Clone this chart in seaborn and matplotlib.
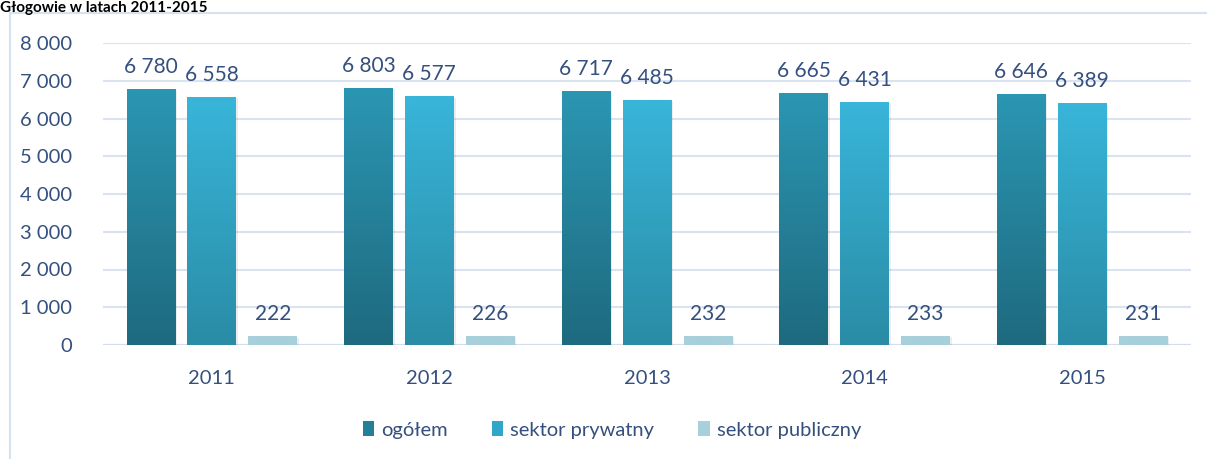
import numpy as np
import pandas as pd
import matplotlib
matplotlib.use("Agg")
import matplotlib.pyplot as plt
import seaborn as sns
from matplotlib.colors import LinearSegmentedColormap
from matplotlib.patches import Rectangle

years = ["2011", "2012", "2013", "2014", "2015"]
series_names = ["ogółem", "sektor prywatny", "sektor publiczny"]
ogolem = [6780, 6803, 6717, 6665, 6646]
prywatny = [6558, 6577, 6485, 6431, 6389]
publiczny = [222, 226, 232, 233, 231]
y_ticks = [0, 1000, 2000, 3000, 4000, 5000, 6000, 7000, 8000]
title_text = "Głogowie w latach 2011-2015"

df = pd.DataFrame({
    "rok": years * 3,
    "seria": [series_names[0]] * 5 + [series_names[1]] * 5 + [series_names[2]] * 5,
    "wartosc": ogolem + prywatny + publiczny,
})

grad = {
    series_names[0]: ("#1e6a7f", "#2b96b2"),
    series_names[1]: ("#2a8ca6", "#38b5d9"),
    series_names[2]: ("#a8cfdc", "#a8cfdc"),
}
mid = {series_names[0]: "#247f98", series_names[1]: "#32a6c8", series_names[2]: "#a8cfdc"}
text_col = "#34507e"

sns.set_theme(style="white")
plt.rcParams["font.family"] = ["Lato", "DejaVu Sans"]

fig = plt.figure(figsize=(12.07, 4.59), dpi=100)
W, H = 1207, 459
ax = fig.add_axes([103 / W, 1 - 345 / H, (1191 - 103) / W, (345 - 43) / H])

sns.barplot(data=df, x="rok", y="wartosc", hue="seria", hue_order=series_names,
            palette=mid, width=0.84, gap=0.2, ax=ax, legend=False, zorder=3)

ax.set_ylim(0, 8000)
ax.set_xlim(-0.5, 4.5)

# gradients + shadows
for cont, name in zip(ax.containers, series_names):
    cmap = LinearSegmentedColormap.from_list(name, list(grad[name]))
    for p in cont.patches:
        x, w, h = p.get_x(), p.get_width(), p.get_height()
        p.set_facecolor("none")
        p.set_edgecolor("none")
        ax.imshow(np.linspace(0, 1, 100).reshape(-1, 1), extent=[x, x + w, 0, h],
                  origin="lower", aspect="auto", cmap=cmap, zorder=3)
        ax.add_patch(Rectangle((x + 0.008, 0), w, h - 25, facecolor="#000000",
                               alpha=0.07, edgecolor="none", zorder=2.5))
    labels = [f"{int(v):,}".replace(",", " ") for v in cont.datavalues]
    ax.bar_label(cont, labels=labels, padding=9, fontsize=15, color=text_col, zorder=5)

ax.set_xlim(-0.5, 4.5)
ax.set_ylim(0, 8000)
ax.set_yticks(y_ticks)
ax.set_yticklabels([f"{t:,}".replace(",", " ") for t in y_ticks])
ax.grid(axis="y", color="#dae4f1", linewidth=1.5, zorder=0)
ax.set_axisbelow(True)
for s in ["top", "right", "left", "bottom"]:
    ax.spines[s].set_visible(False)
ax.axhline(0, color="#d3deec", linewidth=1.5, zorder=1)
ax.tick_params(axis="y", length=0, pad=22, labelsize=14.5, labelcolor=text_col)
ax.tick_params(axis="x", length=0, pad=18, labelsize=14.5, labelcolor=text_col)
ax.set_xlabel("")
ax.set_ylabel("")

handles = [Rectangle((0, 0), 1, 1, facecolor=mid[n], edgecolor="none") for n in series_names]
fig.legend(handles, series_names, loc="center", bbox_to_anchor=(612 / W, 1 - 430 / H),
           ncol=3, frameon=False, handlelength=0.55, handleheight=0.75, handletextpad=0.35,
           columnspacing=2.2, fontsize=14.5, labelcolor=text_col)

# outer chart border
fig.add_artist(Rectangle((10 / W, -0.05), 1.1, 1 - 13 / H + 0.05, transform=fig.transFigure,
                         facecolor="none", edgecolor="#d6e2f0", linewidth=1.5))
fig.text(0.0, 1 - 12 / H, title_text, fontsize=11, fontweight="bold", color="black",
         ha="left", va="baseline")

fig.savefig("out.png", dpi=100, facecolor="white")
